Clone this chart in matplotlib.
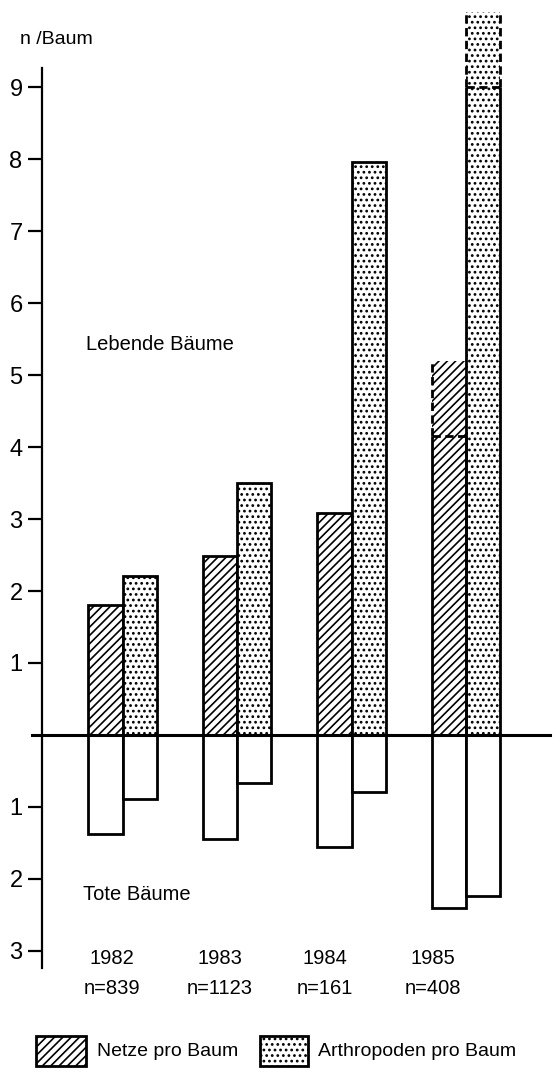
import matplotlib
matplotlib.use("Agg")
import matplotlib.pyplot as plt
from matplotlib.patches import Rectangle

# ---------------- data ----------------
years = ["1982", "1983", "1984", "1985"]
n_trees = ["n=839", "n=1123", "n=161", "n=408"]
netze_lebend = [1.80, 2.48, 3.08, 4.15]          # solid part
arthro_lebend = [2.21, 3.50, 7.97, 9.00]         # solid part
netze_lebend_ext = [None, None, None, 5.20]      # dashed extension (upper value)
arthro_lebend_ext = [None, None, None, 10.05]
netze_tot = [1.38, 1.44, 1.56, 2.40]
arthro_tot = [0.89, 0.67, 0.79, 2.24]
pos_ticks = [1, 2, 3, 4, 5, 6, 7, 8, 9]
neg_ticks = [1, 2, 3]

FONT = ["Liberation Sans", "DejaVu Sans"]
plt.rcParams["font.family"] = FONT
plt.rcParams["hatch.linewidth"] = 1.2

W, H = 560, 1068
fig = plt.figure(figsize=(W / 100, H / 100), dpi=100)


def fx(px):
    return px / W


def fy(py):
    return 1 - py / H


# axes: left spine at x=42px, right at 550px; y from 68px (top) to 968px (bottom)
ax = fig.add_axes([fx(42), fy(968), (550 - 42) / W, (968 - 68) / H])
ax.set_ylim(-3.24, 9.27)
ax.set_xlim(-0.705, 3.734)

w = 0.30
lw = 2.0
DASH = (0, (3, 1.6))
HATCH_N = "////"
HATCH_A = "..."
idx = list(range(len(years)))


def column(x, top, ext, hatch, dashed_right):
    """Draw a living-tree column (fill + outline); with optional dashed extension."""
    if ext is None:
        ax.bar(x, top, width=w, facecolor="white", edgecolor="black",
               hatch=hatch, linewidth=lw, zorder=3)
        return
    # solid part: fill only, then sides
    ax.bar(x, top, width=w, facecolor="white", edgecolor="black",
           hatch=hatch, linewidth=0, zorder=3)
    ax.vlines([x - w / 2, x + w / 2], 0, top, colors="black", linewidth=lw, zorder=4)
    # extension
    ax.bar(x, ext - top, bottom=top, width=w, facecolor="white", edgecolor="black",
           hatch=hatch, linewidth=0, zorder=3, clip_on=False)
    ax.vlines(x - w / 2, top, ext, colors="black", linestyles=DASH,
              linewidth=lw, zorder=4, clip_on=False)
    if dashed_right:
        ax.vlines(x + w / 2, top, ext, colors="black", linestyles=DASH,
                  linewidth=lw, zorder=4, clip_on=False)
    ax.hlines(top, x - w / 2, x + w / 2, colors="black", linestyles=DASH,
              linewidth=lw, zorder=4)


for i in idx:
    xh = i - w / 2
    xd = i + w / 2
    column(xh, netze_lebend[i], netze_lebend_ext[i], HATCH_N, False)
    column(xd, arthro_lebend[i], arthro_lebend_ext[i], HATCH_A, True)
    # dead trees (plotted downward)
    ax.bar(xh, -netze_tot[i], width=w, facecolor="white", edgecolor="black",
           linewidth=lw, zorder=3)
    ax.bar(xd, -arthro_tot[i], width=w, facecolor="white", edgecolor="black",
           linewidth=lw, zorder=3)

# zero line extending slightly left of the axis
ax.axhline(0, xmin=(32 - 42) / 508, xmax=1, color="black", linewidth=2.2,
           clip_on=False, zorder=5)

# axis styling
for s in ["top", "right", "bottom"]:
    ax.spines[s].set_visible(False)
ax.spines["left"].set_linewidth(1.6)
ax.set_xticks([])
ticks = [-t for t in neg_ticks] + pos_ticks
ax.set_yticks(ticks)
ax.set_yticklabels([str(t) for t in neg_ticks] + [str(t) for t in pos_ticks])
ax.tick_params(axis="y", direction="out", length=10, width=1.6, pad=4,
               labelsize=17)

# texts
TS = 14.5
fig.text(fx(20), fy(40), "n /Baum", fontsize=14, ha="left", va="center")
fig.text(fx(86), fy(344), "Lebende Bäume", fontsize=TS, ha="left", va="center")
fig.text(fx(83), fy(895), "Tote Bäume", fontsize=TS, ha="left", va="center")

year_px = [112, 220, 325, 433]
for i in idx:
    fig.text(fx(year_px[i]), fy(958), years[i], fontsize=TS, ha="center", va="center")
    fig.text(fx(year_px[i]), fy(988), n_trees[i], fontsize=TS, ha="center", va="center")

# legend (manual)
fig.patches.append(Rectangle((fx(36), fy(1066)), (86 - 36) / W, (1066 - 1036) / H,
                             transform=fig.transFigure, facecolor="white",
                             edgecolor="black", hatch=HATCH_N, linewidth=lw))
fig.text(fx(97), fy(1052), "Netze pro Baum", fontsize=14, ha="left", va="center")
fig.patches.append(Rectangle((fx(260), fy(1066)), (308 - 260) / W, (1066 - 1036) / H,
                             transform=fig.transFigure, facecolor="white",
                             edgecolor="black", hatch=HATCH_A, linewidth=lw))
fig.text(fx(318), fy(1052), "Arthropoden pro Baum", fontsize=14, ha="left", va="center")

fig.savefig("out.png", dpi=100)
